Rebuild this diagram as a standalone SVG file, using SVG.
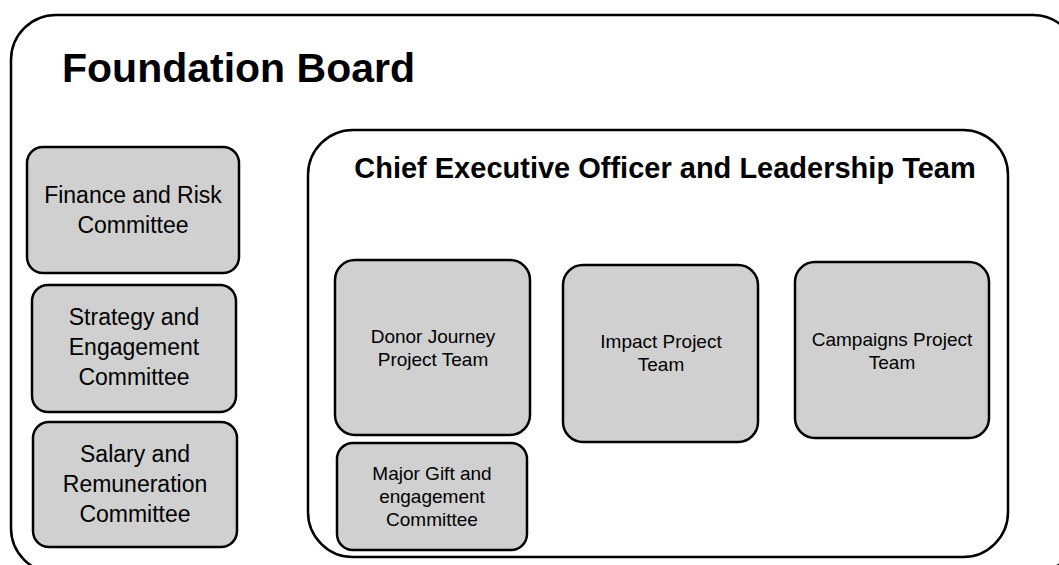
<svg xmlns="http://www.w3.org/2000/svg" width="1059" height="565" viewBox="0 0 1059 565">
<style>
.frame{fill:#fff;stroke:#000;stroke-width:2.5}
.box{fill:#d0d0d0;stroke:#000;stroke-width:2.5}
.t{font-family:"Liberation Sans",Arial,sans-serif;fill:#000;text-anchor:middle}
.big{font-size:23px}
.sm{font-size:19px}
.h1{font-family:"Liberation Sans",Arial,sans-serif;font-weight:bold;font-size:41px;fill:#000}
.h2{font-family:"Liberation Sans",Arial,sans-serif;font-weight:bold;font-size:29px;fill:#000;text-anchor:middle}
</style>
<rect width="1059" height="565" fill="#fff"/>
<g id="foundation-board">
<rect class="frame" x="11" y="15" width="1067" height="558" rx="45"/>
<text class="h1" x="62" y="82">Foundation Board</text>
</g>
<g id="finance-risk">
<rect class="box" x="27" y="147" width="212" height="126" rx="16"/>
<text class="t big" x="133" y="203">Finance and Risk</text>
<text class="t big" x="133" y="233">Committee</text>
</g>
<g id="strategy-engagement">
<rect class="box" x="32" y="285" width="204" height="127" rx="16"/>
<text class="t big" x="134" y="325">Strategy and</text>
<text class="t big" x="134" y="355">Engagement</text>
<text class="t big" x="134" y="385">Committee</text>
</g>
<g id="salary-remuneration">
<rect class="box" x="33" y="422" width="204" height="125" rx="16"/>
<text class="t big" x="135" y="462">Salary and</text>
<text class="t big" x="135" y="492">Remuneration</text>
<text class="t big" x="135" y="522">Committee</text>
</g>
<g id="ceo-leadership">
<rect class="frame" x="308" y="130" width="700" height="427" rx="45"/>
<text class="h2" x="665" y="178">Chief Executive Officer and Leadership Team</text>
</g>
<g id="donor-journey">
<rect class="box" x="335" y="260" width="195" height="175" rx="20"/>
<text class="t sm" x="433" y="343">Donor Journey</text>
<text class="t sm" x="433" y="366">Project Team</text>
</g>
<g id="major-gift">
<rect class="box" x="337" y="443" width="190" height="107" rx="16"/>
<text class="t sm" x="432" y="480">Major Gift and</text>
<text class="t sm" x="432" y="503">engagement</text>
<text class="t sm" x="432" y="526">Committee</text>
</g>
<g id="impact">
<rect class="box" x="563" y="265" width="195" height="177" rx="20"/>
<text class="t sm" x="661" y="348">Impact Project</text>
<text class="t sm" x="661" y="371">Team</text>
</g>
<g id="campaigns">
<rect class="box" x="795" y="262" width="194" height="176" rx="20"/>
<text class="t sm" x="892" y="346">Campaigns Project</text>
<text class="t sm" x="892" y="369">Team</text>
</g>
<g id="connectors"></g>
</svg>
